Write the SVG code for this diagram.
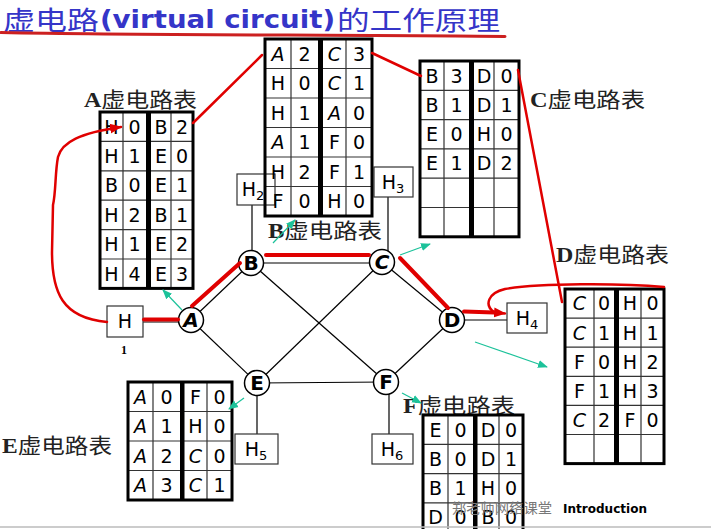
<svg xmlns="http://www.w3.org/2000/svg" width="711" height="529" viewBox="0 0 711 529">
<defs>
<marker id="ra" markerUnits="userSpaceOnUse" markerWidth="12" markerHeight="12" refX="11" refY="6" orient="auto"><path d="M0,1 L12,6 L0,11 Z" fill="#e00000"/></marker>
<marker id="ta" markerUnits="userSpaceOnUse" markerWidth="10" markerHeight="10" refX="9" refY="5" orient="auto"><path d="M0,1 L10,5 L0,9 Z" fill="#1cc29a"/></marker>
<style>
.tb{fill:none;stroke:#000;stroke-width:3}
.gl{fill:none;stroke:#333;stroke-width:1.2}
.bar{fill:#000}
.ct{font-family:"DejaVu Sans","Liberation Sans",sans-serif;font-size:19px;text-anchor:middle;fill:#000}
.it{font-style:italic}
.lnk{stroke:#000;stroke-width:1.2;fill:none}
.red{stroke:#e00000;stroke-width:4;fill:none;stroke-linecap:round}
.redt{stroke:#e00000;stroke-width:2.5;fill:none;stroke-linecap:round}
.teal{stroke:#1cc29a;stroke-width:1.2;fill:none}
.nc{fill:#fff;stroke:#000;stroke-width:1.5}
.nt{font-family:"DejaVu Sans","Liberation Sans",sans-serif;font-size:20px;font-weight:bold;text-anchor:middle}
.hb{fill:#fff;stroke:#333;stroke-width:1.2}
.ht{font-family:"DejaVu Sans","Liberation Sans",sans-serif;font-size:19px;text-anchor:middle}
.lb{font-family:"Noto Sans CJK SC",sans-serif;font-size:21px;fill:#222}
.lbA{font-family:"Liberation Serif",serif;font-weight:bold}
.ttl{font-family:"Noto Sans CJK SC",sans-serif;font-size:26px;fill:#3535c8}
</style>
</defs>
<rect width="711" height="529" fill="#fff"/>

<g id="title">
<text class="ttl" x="3" y="30.2" textLength="96" lengthAdjust="spacingAndGlyphs">虚电路</text>
<text x="100" y="28" font-family="DejaVu Sans,sans-serif" font-weight="bold" font-size="25" fill="#3535c8" textLength="235" lengthAdjust="spacingAndGlyphs">(virtual circuit)</text>
<text class="ttl" x="337" y="30.2" textLength="163" lengthAdjust="spacingAndGlyphs">的工作原理</text>
<path d="M1,32.5 C150,35.5 350,34.5 505,36.5" stroke="#cc2020" stroke-width="3" fill="none" stroke-linecap="round"/>
</g>

<g id="connectors">
<line class="lnk" x1="143" y1="322" x2="179" y2="322"/>
<line class="lnk" x1="191" y1="320" x2="251" y2="263"/>
<line class="lnk" x1="191" y1="320" x2="257" y2="383"/>
<line class="lnk" x1="251" y1="263" x2="382" y2="263"/>
<line class="lnk" x1="251" y1="263" x2="386" y2="382"/>
<line class="lnk" x1="382" y1="262" x2="257" y2="383"/>
<line class="lnk" x1="382" y1="262" x2="452" y2="320"/>
<line class="lnk" x1="452" y1="320" x2="386" y2="382"/>
<line class="lnk" x1="257" y1="383" x2="386" y2="382"/>
<line class="lnk" x1="452" y1="320" x2="507" y2="320"/>
<line class="lnk" x1="252" y1="205" x2="252" y2="251"/>
<line class="lnk" x1="388" y1="197" x2="388" y2="251"/>
<line class="lnk" x1="257" y1="395" x2="257" y2="434"/>
<line class="lnk" x1="389" y1="394" x2="389" y2="434"/>
</g>

<g id="host-H1"><rect class="hb" x="107" y="306" width="36" height="31"/><text class="ht" x="125" y="328">H</text><text x="124" y="354" font-family="Liberation Serif,serif" font-weight="bold" font-size="12" text-anchor="middle">1</text></g>
<g id="host-H2"><rect class="hb" x="237" y="174" width="38" height="31"/><text class="ht" x="253" y="196">H<tspan font-size="13" dy="4">2</tspan></text></g>
<g id="host-H3"><rect class="hb" x="374" y="167" width="39" height="30"/><text class="ht" x="393" y="189">H<tspan font-size="13" dy="4">3</tspan></text></g>
<g id="host-H4"><rect class="hb" x="507" y="303" width="40" height="30"/><text class="ht" x="527" y="325">H<tspan font-size="13" dy="4">4</tspan></text></g>
<g id="host-H5"><rect class="hb" x="235" y="434" width="43" height="30"/><text class="ht" x="256" y="456">H<tspan font-size="13" dy="4">5</tspan></text></g>
<g id="host-H6"><rect class="hb" x="372" y="434" width="41" height="30"/><text class="ht" x="392" y="456">H<tspan font-size="13" dy="4">6</tspan></text></g>

<g id="node-A"><circle class="nc" cx="191" cy="320" r="12.5"/><text class="nt it" x="191" y="327">A</text></g>
<g id="node-B"><circle class="nc" cx="251" cy="263" r="12.5"/><text class="nt" x="251" y="270">B</text></g>
<g id="node-C"><circle class="nc" cx="382" cy="262" r="12.5"/><text class="nt it" x="382" y="269">C</text></g>
<g id="node-D"><circle class="nc" cx="452" cy="320" r="12.5"/><text class="nt" x="452" y="327">D</text></g>
<g id="node-E"><circle class="nc" cx="257" cy="383" r="12.5"/><text class="nt" x="257" y="390">E</text></g>
<g id="node-F"><circle class="nc" cx="386" cy="382" r="12.5"/><text class="nt" x="386" y="389">F</text></g>

<g id="table-A">
<text class="lb" x="84" y="107" textLength="113" lengthAdjust="spacingAndGlyphs"><tspan class="lbA">A</tspan>虚电路表</text>
<path class="gl" d="M100,141.4H193M100,170.8H193M100,200.2H193M100,229.6H193M100,259H193M123,112V288.4M171,112V288.4"/>
<rect class="bar" x="146" y="112" width="5" height="176.4"/>
<rect class="tb" x="100" y="112" width="93" height="176.4"/>
<text class="ct" x="111.5" y="133.5">H</text><text class="ct" x="134.5" y="133.5">0</text><text class="ct" x="161" y="133.5">B</text><text class="ct" x="182" y="133.5">2</text>
<text class="ct" x="111.5" y="162.9">H</text><text class="ct" x="134.5" y="162.9">1</text><text class="ct" x="161" y="162.9">E</text><text class="ct" x="182" y="162.9">0</text>
<text class="ct" x="111.5" y="192.3">B</text><text class="ct" x="134.5" y="192.3">0</text><text class="ct" x="161" y="192.3">E</text><text class="ct" x="182" y="192.3">1</text>
<text class="ct" x="111.5" y="221.7">H</text><text class="ct" x="134.5" y="221.7">2</text><text class="ct" x="161" y="221.7">B</text><text class="ct" x="182" y="221.7">1</text>
<text class="ct" x="111.5" y="251.1">H</text><text class="ct" x="134.5" y="251.1">1</text><text class="ct" x="161" y="251.1">E</text><text class="ct" x="182" y="251.1">2</text>
<text class="ct" x="111.5" y="280.5">H</text><text class="ct" x="134.5" y="280.5">4</text><text class="ct" x="161" y="280.5">E</text><text class="ct" x="182" y="280.5">3</text>
</g>

<g id="table-B">
<text class="lb" x="268" y="238" textLength="114" lengthAdjust="spacingAndGlyphs"><tspan class="lbA">B</tspan>虚电路表</text>
<path class="gl" d="M265,68.5H372M265,98H372M265,127.5H372M265,157H372M265,186.5H372M291,39V216M346,39V216"/>
<rect class="bar" x="318" y="39" width="5" height="177"/>
<rect class="tb" x="265" y="39" width="107" height="177"/>
<text class="ct it" x="278" y="60.6">A</text><text class="ct" x="304.5" y="60.6">2</text><text class="ct it" x="334.5" y="60.6">C</text><text class="ct" x="359" y="60.6">3</text>
<text class="ct" x="278" y="90.1">H</text><text class="ct" x="304.5" y="90.1">0</text><text class="ct it" x="334.5" y="90.1">C</text><text class="ct" x="359" y="90.1">1</text>
<text class="ct" x="278" y="119.6">H</text><text class="ct" x="304.5" y="119.6">1</text><text class="ct it" x="334.5" y="119.6">A</text><text class="ct" x="359" y="119.6">0</text>
<text class="ct it" x="278" y="149.1">A</text><text class="ct" x="304.5" y="149.1">1</text><text class="ct" x="334.5" y="149.1">F</text><text class="ct" x="359" y="149.1">0</text>
<text class="ct" x="278" y="178.6">H</text><text class="ct" x="304.5" y="178.6">2</text><text class="ct" x="334.5" y="178.6">F</text><text class="ct" x="359" y="178.6">1</text>
<text class="ct" x="278" y="208.1">F</text><text class="ct" x="304.5" y="208.1">0</text><text class="ct" x="334.5" y="208.1">H</text><text class="ct" x="359" y="208.1">0</text>
</g>

<g id="table-C">
<text class="lb" x="530" y="107" textLength="115" lengthAdjust="spacingAndGlyphs"><tspan class="lbA">C</tspan>虚电路表</text>
<path class="gl" d="M420,90.3H519M420,119.6H519M420,148.9H519M420,178.2H519M420,207.5H519M444,61V236.8M494,61V236.8"/>
<rect class="bar" x="469" y="61" width="5" height="175.8"/>
<rect class="tb" x="420" y="61" width="99" height="175.8"/>
<text class="ct" x="432" y="82.5">B</text><text class="ct" x="456.5" y="82.5">3</text><text class="ct" x="484" y="82.5">D</text><text class="ct" x="506.5" y="82.5">0</text>
<text class="ct" x="432" y="111.8">B</text><text class="ct" x="456.5" y="111.8">1</text><text class="ct" x="484" y="111.8">D</text><text class="ct" x="506.5" y="111.8">1</text>
<text class="ct" x="432" y="141.1">E</text><text class="ct" x="456.5" y="141.1">0</text><text class="ct" x="484" y="141.1">H</text><text class="ct" x="506.5" y="141.1">0</text>
<text class="ct" x="432" y="170.4">E</text><text class="ct" x="456.5" y="170.4">1</text><text class="ct" x="484" y="170.4">D</text><text class="ct" x="506.5" y="170.4">2</text>
</g>

<g id="table-D">
<text class="lb" x="556" y="262" textLength="113" lengthAdjust="spacingAndGlyphs"><tspan class="lbA">D</tspan>虚电路表</text>
<path class="gl" d="M565,318.1H664M565,347.2H664M565,376.3H664M565,405.4H664M565,434.5H664M594,289V463.6M641,289V463.6"/>
<rect class="bar" x="614" y="289" width="5" height="174.6"/>
<rect class="tb" x="565" y="289" width="99" height="174.6"/>
<text class="ct it" x="579.5" y="310.3">C</text><text class="ct" x="604" y="310.3">0</text><text class="ct" x="630" y="310.3">H</text><text class="ct" x="652.5" y="310.3">0</text>
<text class="ct it" x="579.5" y="339.5">C</text><text class="ct" x="604" y="339.5">1</text><text class="ct" x="630" y="339.5">H</text><text class="ct" x="652.5" y="339.5">1</text>
<text class="ct" x="579.5" y="368.6">F</text><text class="ct" x="604" y="368.6">0</text><text class="ct" x="630" y="368.6">H</text><text class="ct" x="652.5" y="368.6">2</text>
<text class="ct" x="579.5" y="397.7">F</text><text class="ct" x="604" y="397.7">1</text><text class="ct" x="630" y="397.7">H</text><text class="ct" x="652.5" y="397.7">3</text>
<text class="ct it" x="579.5" y="426.8">C</text><text class="ct" x="604" y="426.8">2</text><text class="ct" x="630" y="426.8">F</text><text class="ct" x="652.5" y="426.8">0</text>
</g>

<g id="table-E">
<text class="lb" x="2" y="453" textLength="110" lengthAdjust="spacingAndGlyphs"><tspan class="lbA">E</tspan>虚电路表</text>
<path class="gl" d="M128,411.5H232M128,441H232M128,470.5H232M153,382V500M207,382V500"/>
<rect class="bar" x="180" y="382" width="4.5" height="118"/>
<rect class="tb" x="128" y="382" width="104" height="118"/>
<text class="ct it" x="140.5" y="403.6">A</text><text class="ct" x="166.5" y="403.6">0</text><text class="ct" x="195.5" y="403.6">F</text><text class="ct" x="219.5" y="403.6">0</text>
<text class="ct it" x="140.5" y="433.1">A</text><text class="ct" x="166.5" y="433.1">1</text><text class="ct" x="195.5" y="433.1">H</text><text class="ct" x="219.5" y="433.1">0</text>
<text class="ct it" x="140.5" y="462.6">A</text><text class="ct" x="166.5" y="462.6">2</text><text class="ct it" x="195.5" y="462.6">C</text><text class="ct" x="219.5" y="462.6">0</text>
<text class="ct it" x="140.5" y="492.1">A</text><text class="ct" x="166.5" y="492.1">3</text><text class="ct it" x="195.5" y="492.1">C</text><text class="ct" x="219.5" y="492.1">1</text>
</g>

<g id="table-F">
<text class="lb" x="403" y="413" textLength="112" lengthAdjust="spacingAndGlyphs"><tspan class="lbA">F</tspan>虚电路表</text>
<path class="gl" d="M423,444.3H523M423,473.6H523M423,502.9H523M448,415V540M499,415V540"/>
<rect class="bar" x="473" y="415" width="4.5" height="125"/>
<rect class="tb" x="423" y="415" width="100" height="117.2"/>
<text class="ct" x="435.5" y="436.5">E</text><text class="ct" x="460.5" y="436.5">0</text><text class="ct" x="488" y="436.5">D</text><text class="ct" x="511" y="436.5">0</text>
<text class="ct" x="435.5" y="465.8">B</text><text class="ct" x="460.5" y="465.8">0</text><text class="ct" x="488" y="465.8">D</text><text class="ct" x="511" y="465.8">1</text>
<text class="ct" x="435.5" y="495.1">B</text><text class="ct" x="460.5" y="495.1">1</text><text class="ct" x="488" y="495.1">H</text><text class="ct" x="511" y="495.1">0</text>
<text class="ct" x="435.5" y="524.4">D</text><text class="ct" x="460.5" y="524.4">0</text><text class="ct" x="488" y="524.4">B</text><text class="ct" x="511" y="524.4">0</text>
</g>

<g id="annotations">
<line class="red" x1="144" y1="319.5" x2="178" y2="319.5"/>
<line class="red" x1="192" y1="306" x2="240" y2="263"/>
<line class="red" x1="266" y1="255" x2="369" y2="255"/>
<line class="red" x1="400" y1="258" x2="448" y2="308"/>
<line class="red" x1="464" y1="311.5" x2="494" y2="312.5"/>
<path class="redt" d="M494,312.5 L505,313.5" marker-end="url(#ra)"/>
<path class="redt" d="M664,287 C620,283 540,283 505,289 C488,293 484,305 494,312"/>
<path class="redt" d="M107,322 C62,318 52,292 52,252 L53,205 C56,192 55,172 58,157 C62,142 80,133 121,127" marker-end="url(#ra)"/>
<line class="redt" x1="193" y1="123" x2="262" y2="55"/>
<line class="redt" x1="372" y1="53" x2="421" y2="76"/>
<line class="redt" x1="518" y1="70" x2="562" y2="302"/>
<line class="teal" x1="182" y1="310" x2="163" y2="290" marker-end="url(#ta)"/>
<line class="teal" x1="273" y1="243" x2="295" y2="220" marker-end="url(#ta)"/>
<line class="teal" x1="400" y1="255" x2="430" y2="244" marker-end="url(#ta)"/>
<line class="teal" x1="475" y1="342" x2="547" y2="367" marker-end="url(#ta)"/>
<line class="teal" x1="244" y1="398" x2="229" y2="409" marker-end="url(#ta)"/>
<line class="teal" x1="402" y1="393" x2="421" y2="403" marker-end="url(#ta)"/>
</g>

<g id="footer">
<text x="452" y="513" font-family="Noto Sans CJK SC,sans-serif" font-size="14" fill="#777" textLength="100" lengthAdjust="spacingAndGlyphs">郑老师网络课堂</text>
<text x="563" y="513" font-family="DejaVu Sans,sans-serif" font-weight="bold" font-size="13" fill="#000" textLength="84" lengthAdjust="spacingAndGlyphs">Introduction</text>
<line x1="0" y1="527" x2="711" y2="527" stroke="#bbb" stroke-width="1.5"/>
</g>
</svg>
